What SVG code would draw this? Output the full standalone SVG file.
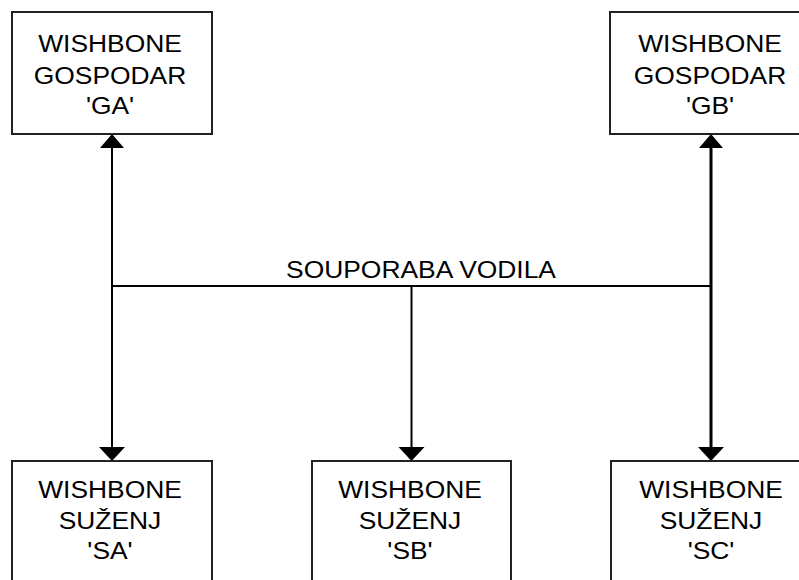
<svg xmlns="http://www.w3.org/2000/svg" width="799" height="580" viewBox="0 0 799 580">
<style>
.box{fill:#fff;stroke:#222;stroke-width:2}
.t{font-family:"Liberation Sans",Arial,sans-serif;font-size:24px;fill:#000;text-anchor:middle}
.ln{stroke:#000;stroke-width:2;fill:none}
.ah{fill:#000}
</style>
<rect width="799" height="580" fill="#fff"/>
<g id="connectors">
<line class="ln" x1="112" y1="146" x2="112" y2="449"/>
<line class="ln" x1="112" y1="286" x2="711" y2="286"/>
<line class="ln" x1="411.5" y1="286" x2="411.5" y2="449"/>
<line class="ln" style="stroke-width:3" x1="711" y1="146" x2="711" y2="449"/>
<polygon class="ah" points="100,148 124,148 112,134"/>
<polygon class="ah" points="699,148 723,148 711,134"/>
<polygon class="ah" points="99,447 125,447 112,461"/>
<polygon class="ah" points="398.5,447 424.5,447 411.5,461"/>
<polygon class="ah" points="698,447 724,447 711,461"/>
<g transform="translate(421 0) scale(1.1 1)"><text class="t" x="0" y="278">SOUPORABA VODILA</text></g>
</g>
<g id="GA">
<rect class="box" x="12" y="12" width="200" height="122"/>
<g transform="translate(110 0) scale(1.1 1)">
<text class="t" x="0" y="52">WISHBONE</text>
<text class="t" x="0" y="84">GOSPODAR</text>
<text class="t" x="0" y="114">'GA'</text>
</g>
</g>
<g id="GB">
<rect class="box" x="610" y="12" width="200" height="122"/>
<g transform="translate(710 0) scale(1.1 1)">
<text class="t" x="0" y="52">WISHBONE</text>
<text class="t" x="0" y="84">GOSPODAR</text>
<text class="t" x="0" y="114">'GB'</text>
</g>
</g>
<g id="SA">
<rect class="box" x="12" y="461" width="200" height="200"/>
<g transform="translate(110 0) scale(1.1 1)">
<text class="t" x="0" y="498">WISHBONE</text>
<text class="t" x="0" y="529">SUŽENJ</text>
<text class="t" x="0" y="559">'SA'</text>
</g>
</g>
<g id="SB">
<rect class="box" x="312" y="461" width="199" height="200"/>
<g transform="translate(410 0) scale(1.1 1)">
<text class="t" x="0" y="498">WISHBONE</text>
<text class="t" x="0" y="529">SUŽENJ</text>
<text class="t" x="0" y="559">'SB'</text>
</g>
</g>
<g id="SC">
<rect class="box" x="611" y="461" width="200" height="200"/>
<g transform="translate(711 0) scale(1.1 1)">
<text class="t" x="0" y="498">WISHBONE</text>
<text class="t" x="0" y="529">SUŽENJ</text>
<text class="t" x="0" y="559">'SC'</text>
</g>
</g>
</svg>
